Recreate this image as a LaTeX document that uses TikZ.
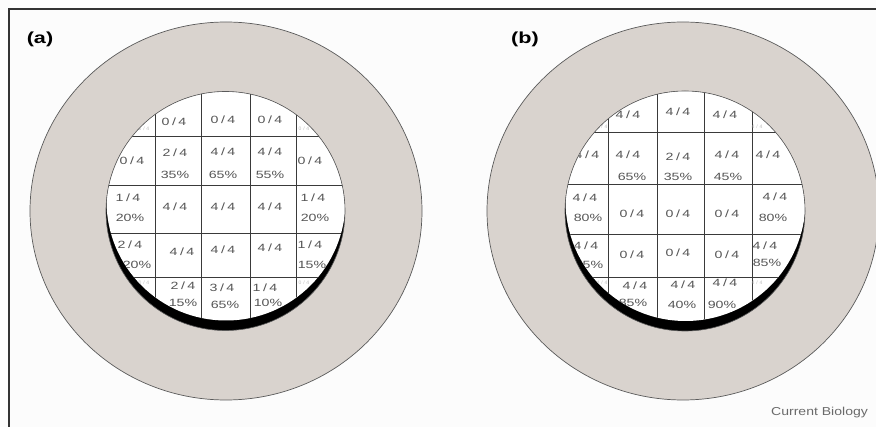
\documentclass[tikz,border=0pt]{standalone}
\usepackage{fontspec}
\setmainfont{Liberation Sans}
\definecolor{ring}{HTML}{D9D3CE}
\definecolor{txt}{HTML}{555555}
\definecolor{edge}{HTML}{5A5A5A}
\definecolor{bg}{HTML}{FCFCFC}
\definecolor{gridc}{HTML}{3A3A3A}
\definecolor{faint}{HTML}{BDBDBD}
\definecolor{frame}{HTML}{333333}
\definecolor{credit}{HTML}{6A6A6A}
\newcommand\fq[2]{#1\kern1.8pt/\kern1.8pt#2}
\newcommand\wide[1]{\scalebox{1.35}[1]{#1}}
\tikzset{
 cell/.style={font=\fontsize{10.5}{12}\selectfont, text=txt, inner sep=0pt},
 tinytext/.style={font=\fontsize{5}{6}\selectfont, text=faint, inner sep=0pt},
 panellabel/.style={font=\bfseries\fontsize{16}{18}\selectfont, inner sep=0pt},
 ringstyle/.style={fill=ring, draw=edge, line width=0.7pt},
 gridline/.style={draw=gridc, line width=0.8pt},
 lensedge/.style={draw=edge, line width=0.6pt},
}
\begin{document}
\begin{tikzpicture}[x=1pt,y=-1pt]
\useasboundingbox (0,0) rectangle (876,427);
\fill[bg] (0,0) rectangle (876,427);
\draw[line width=1.5pt, frame] (9,427) -- (9,9) -- (876,9);

% ---------- panel (a) ----------
\node[panellabel] (la) at (40,39) {\wide{(a)}};
\draw[ringstyle] (226,211) ellipse[x radius=196, y radius=189];
\fill[black] (225.5,211) circle[radius=119.5];
\begin{scope}
\clip (225.5,211) circle[radius=119.5];
\clip (226,201) circle[radius=119.5];
\fill[white] (100,80) rectangle (360,340);
\foreach \vx in {155,201,250,296} \draw[gridline] (\vx,80) -- (\vx,340);
\foreach \hy in {136,185,233,277} \draw[gridline] (100,\hy) -- (360,\hy);
\node[tinytext] (a00) at (144,129) {\fq04};
\node[tinytext] (a04) at (304,129) {\fq04};
\node[tinytext] (a40) at (144,283) {\fq04};
\node[tinytext] (a44) at (304,283) {\fq04};
\node[cell] (a01) at (174,122) {\wide{\fq04}};
\node[cell] (a02) at (223,120) {\wide{\fq04}};
\node[cell] (a03) at (270,120) {\wide{\fq04}};
\node[cell] (a10) at (132,161) {\wide{\fq04}};
\node[cell] (a11) at (175,153) {\wide{\fq24}};
\node[cell] (a11p) at (175,175) {\wide{35\%}};
\node[cell] (a12) at (223,152) {\wide{\fq44}};
\node[cell] (a12p) at (223,175) {\wide{65\%}};
\node[cell] (a13) at (270,152) {\wide{\fq44}};
\node[cell] (a13p) at (270,175) {\wide{55\%}};
\node[cell] (a14) at (310,161) {\wide{\fq04}};
\node[cell] (a20) at (128,198) {\wide{\fq14}};
\node[cell] (a20p) at (130,218) {\wide{20\%}};
\node[cell] (a21) at (175,207) {\wide{\fq44}};
\node[cell] (a22) at (223,207) {\wide{\fq44}};
\node[cell] (a23) at (270,207) {\wide{\fq44}};
\node[cell] (a24) at (313,198) {\wide{\fq14}};
\node[cell] (a24p) at (315,218) {\wide{20\%}};
\node[cell] (a30) at (130,245) {\wide{\fq24}};
\node[cell] (a30p) at (137,265) {\wide{20\%}};
\node[cell] (a31) at (182,252) {\wide{\fq44}};
\node[cell] (a32) at (223,250) {\wide{\fq44}};
\node[cell] (a33) at (270,248) {\wide{\fq44}};
\node[cell] (a34) at (310,245) {\wide{\fq14}};
\node[cell] (a34p) at (312,265) {\wide{15\%}};
\node[cell] (a41) at (183,286) {\wide{\fq24}};
\node[cell] (a41p) at (183,303) {\wide{15\%}};
\node[cell] (a42) at (222,288) {\wide{\fq34}};
\node[cell] (a42p) at (225,305) {\wide{65\%}};
\node[cell] (a43) at (265,288) {\wide{\fq14}};
\node[cell] (a43p) at (268,303) {\wide{10\%}};
\end{scope}
\draw[lensedge] (225.5,211) circle[radius=119.5];

% ---------- panel (b) ----------
\node[panellabel] (lb) at (525,39) {\wide{(b)}};
\draw[ringstyle] (683,211) ellipse[x radius=196, y radius=189];
\fill[black] (685,211) circle[radius=120];
\begin{scope}
\clip (685,211) circle[radius=120];
\clip (685.5,201) circle[radius=120];
\fill[white] (560,80) rectangle (820,340);
\foreach \vx in {608,657,704,752} \draw[gridline] (\vx,80) -- (\vx,340);
\foreach \hy in {132,184,234,277} \draw[gridline] (560,\hy) -- (820,\hy);
\node[tinytext] (b00) at (602,127) {\fq44};
\node[tinytext] (b04) at (757,127) {\fq44};
\node[tinytext] (b40) at (602,283) {\fq44};
\node[tinytext] (b44) at (757,283) {\fq44};
\node[cell] (b01) at (628,115) {\wide{\fq44}};
\node[cell] (b02) at (678,112) {\wide{\fq44}};
\node[cell] (b03) at (725,115) {\wide{\fq44}};
\node[cell] (b10) at (587,155) {\wide{\fq44}};
\node[cell] (b11) at (628,155) {\wide{\fq44}};
\node[cell] (b11p) at (632,177) {\wide{65\%}};
\node[cell] (b12) at (678,157) {\wide{\fq24}};
\node[cell] (b12p) at (678,177) {\wide{35\%}};
\node[cell] (b13) at (727,155) {\wide{\fq44}};
\node[cell] (b13p) at (728,177) {\wide{45\%}};
\node[cell] (b14) at (768,155) {\wide{\fq44}};
\node[cell] (b20) at (585,198) {\wide{\fq44}};
\node[cell] (b20p) at (588,218) {\wide{80\%}};
\node[cell] (b21) at (632,214) {\wide{\fq04}};
\node[cell] (b22) at (678,214) {\wide{\fq04}};
\node[cell] (b23) at (727,214) {\wide{\fq04}};
\node[cell] (b24) at (775,197) {\wide{\fq44}};
\node[cell] (b24p) at (773,218) {\wide{80\%}};
\node[cell] (b30) at (586,246) {\wide{\fq44}};
\node[cell] (b30p) at (589,265) {\wide{75\%}};
\node[cell] (b31) at (632,255) {\wide{\fq04}};
\node[cell] (b32) at (678,253) {\wide{\fq04}};
\node[cell] (b33) at (727,255) {\wide{\fq04}};
\node[cell] (b34) at (765,246) {\wide{\fq44}};
\node[cell] (b34p) at (767,263) {\wide{85\%}};
\node[cell] (b41) at (635,286) {\wide{\fq44}};
\node[cell] (b41p) at (633,303) {\wide{85\%}};
\node[cell] (b42) at (683,285) {\wide{\fq44}};
\node[cell] (b42p) at (682,305) {\wide{40\%}};
\node[cell] (b43) at (725,283) {\wide{\fq44}};
\node[cell] (b43p) at (722,305) {\wide{90\%}};
\end{scope}
\draw[lensedge] (685,211) circle[radius=120];

\node[font=\fontsize{11.5}{13}\selectfont, text=credit, inner sep=0pt, anchor=west] (credit) at (771,413) {\scalebox{1.22}[1]{Current Biology}};
\end{tikzpicture}
\end{document}
